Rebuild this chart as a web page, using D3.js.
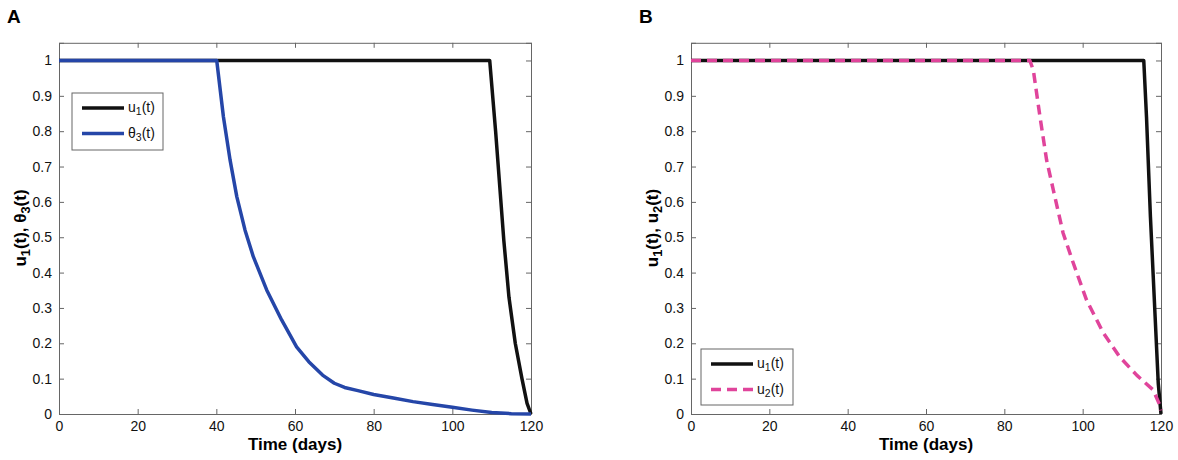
<!DOCTYPE html>
<html>
<head>
<meta charset="utf-8">
<script src="https://cdn.jsdelivr.net/npm/d3@7"></script>
<style>
  body { margin: 0; background: #fff; }
  text { font-family: "Liberation Sans", Arial, Helvetica, sans-serif; }
  .axis path, .axis line { stroke: #666; }
  .axis text { font-size: 14px; fill: #111; }
</style>
</head>
<body>
<div id="main"></div>
<script>
// panel A
var tA_u1 = [0, 109.5, 111, 113.1, 114.4, 116, 117.7, 119, 120];
var vA_u1 = [1, 1, 0.8, 0.49, 0.33, 0.2, 0.1, 0.03, 0];
var tA_th3 = [0, 40.1, 41.8, 43.5, 45.2, 47.3, 49.4, 52.8, 56.6, 60.4, 63.5, 67, 70, 72.6, 76, 80, 85, 90, 95, 100, 105, 110, 115, 120];
var vA_th3 = [1, 1, 0.841, 0.718, 0.615, 0.52, 0.445, 0.351, 0.266, 0.19, 0.148, 0.11, 0.087, 0.075, 0.066, 0.055, 0.045, 0.035, 0.027, 0.019, 0.011, 0.004, 0.001, 0];

// panel B
var tB_u1 = [0, 115.6, 116.3, 117.3, 118.5, 119.3, 120];
var vB_u1 = [1, 1, 0.84, 0.558, 0.275, 0.087, 0];
var tB_u2 = [0, 86.5, 87.4, 89.1, 90.8, 92.5, 95, 97.6, 101, 105.3, 109.5, 113.8, 118, 119.7, 120];
var vB_u2 = [1, 1, 0.973, 0.841, 0.718, 0.634, 0.512, 0.427, 0.322, 0.229, 0.161, 0.11, 0.068, 0.025, 0.01];

var xTicks = [0, 20, 40, 60, 80, 100, 120];
var yTicks = [0, 0.1, 0.2, 0.3, 0.4, 0.5, 0.6, 0.7, 0.8, 0.9, 1];

var black = "#111111", blue = "#2546a8", pink = "#e0449b";

var svg = d3.select("#main")
    .append("svg")
    .attr("width", 1178)
    .attr("height", 460);

function zip(ts, vs) {
    return ts.map((t, i) => ({t: t, v: vs[i]}));
}

// writes "u", sub "1", "(t)" style labels into a text node
function subText(sel, parts) {
    parts.forEach(p => {
        var ts = sel.append("tspan").text(p.s);
        if (p.sub) ts.attr("baseline-shift", "-28%").style("font-size", "75%");
    });
}

function drawPanel(o) {
    var x = d3.scaleLinear().domain([0, 120]).range([o.left, o.right]);
    var y = d3.scaleLinear().domain([0, 1.05]).range([414, 42.8]);

    var g = svg.append("g");

    g.append("g").attr("class", "axis")
        .attr("transform", "translate(0,414)")
        .call(d3.axisBottom(x).tickValues(xTicks).tickSize(-5).tickPadding(7).tickFormat(d3.format("d")));
    g.append("g").attr("class", "axis")
        .attr("transform", "translate(0,42.8)")
        .call(d3.axisTop(x).tickValues(xTicks).tickSize(-5).tickFormat(""));
    g.append("g").attr("class", "axis")
        .attr("transform", "translate(" + o.left + ",0)")
        .call(d3.axisLeft(y).tickValues(yTicks).tickSize(-5).tickPadding(7).tickFormat(d => d3.format("")(d)));
    g.append("g").attr("class", "axis")
        .attr("transform", "translate(" + o.right + ",0)")
        .call(d3.axisRight(y).tickValues(yTicks).tickSize(-5).tickFormat(""));

    var line = d3.line().x(d => x(d.t)).y(d => y(d.v));

    o.series.forEach(s => {
        g.append("path")
            .datum(zip(s.t, s.v))
            .attr("d", line)
            .attr("fill", "none")
            .attr("stroke", s.color)
            .attr("stroke-width", 3.5)
            .attr("stroke-linejoin", "round")
            .attr("stroke-dasharray", s.dash || null);
    });

    // legend
    var L = o.legend;
    g.append("rect")
        .attr("x", L.x).attr("y", L.y).attr("width", L.w).attr("height", L.h)
        .attr("fill", "#fff").attr("stroke", "#666").attr("stroke-width", 1);
    o.series.forEach((s, i) => {
        var ly = L.y + 15 + i * 25.5;
        g.append("line")
            .attr("x1", L.x + 10).attr("x2", L.x + 52)
            .attr("y1", ly).attr("y2", ly)
            .attr("stroke", s.color).attr("stroke-width", 3.5)
            .attr("stroke-dasharray", s.dash || null);
        var t = g.append("text")
            .attr("x", L.x + 56).attr("y", ly + 4)
            .style("font-size", "14px").attr("fill", "#111");
        subText(t, s.label);
    });

    // axis titles
    g.append("text")
        .attr("x", (o.left + o.right) / 2).attr("y", 450)
        .attr("text-anchor", "middle")
        .style("font-size", "17px").style("font-weight", "bold")
        .text("Time (days)");

    var yl = g.append("text")
        .attr("transform", "translate(" + (o.left - 33) + "," + 228 + ") rotate(-90)")
        .attr("text-anchor", "middle")
        .style("font-size", "17px").style("font-weight", "bold");
    subText(yl, o.ylabel);

    svg.append("text")
        .attr("x", o.tagX).attr("y", 23)
        .style("font-size", "19px").style("font-weight", "bold")
        .text(o.tag);
}

drawPanel({
    tag: "A", tagX: 7,
    left: 59, right: 531,
    series: [
        {t: tA_u1, v: vA_u1, color: black, label: [{s: "u"}, {s: "1", sub: true}, {s: "(t)"}]},
        {t: tA_th3, v: vA_th3, color: blue, label: [{s: "θ"}, {s: "3", sub: true}, {s: "(t)"}]}
    ],
    legend: {x: 72, y: 93, w: 91, h: 57},
    ylabel: [{s: "u"}, {s: "1", sub: true}, {s: "(t), θ"}, {s: "3", sub: true}, {s: "(t)"}]
});

drawPanel({
    tag: "B", tagX: 639,
    left: 691, right: 1161,
    series: [
        {t: tB_u1, v: vB_u1, color: black, label: [{s: "u"}, {s: "1", sub: true}, {s: "(t)"}]},
        {t: tB_u2, v: vB_u2, color: pink, dash: "10,6", label: [{s: "u"}, {s: "2", sub: true}, {s: "(t)"}]}
    ],
    legend: {x: 701, y: 349, w: 92, h: 56},
    ylabel: [{s: "u"}, {s: "1", sub: true}, {s: "(t), u"}, {s: "2", sub: true}, {s: "(t)"}]
});
</script>
</body>
</html>
